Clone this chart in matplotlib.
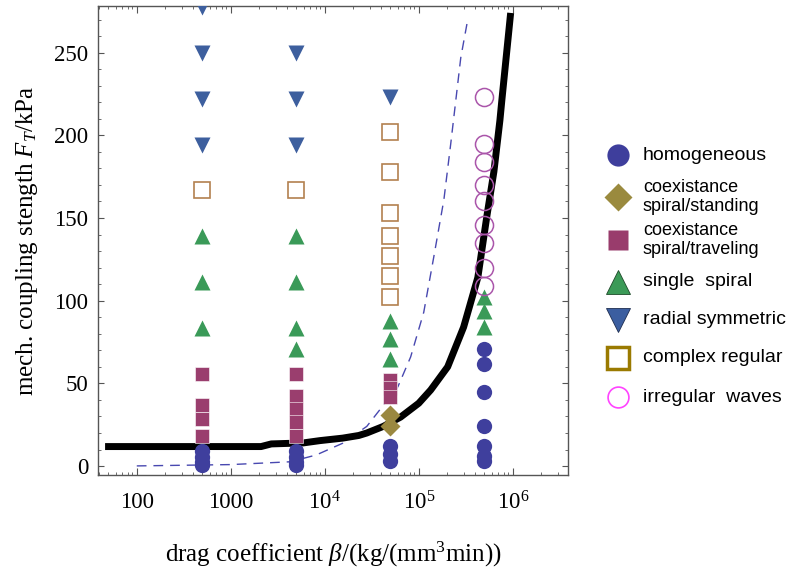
import matplotlib
matplotlib.use("Agg")
import matplotlib.pyplot as plt
from matplotlib.ticker import LogLocator, MultipleLocator, FixedLocator, FixedFormatter, NullFormatter

plt.rcParams["font.family"] = ["Liberation Serif", "DejaVu Serif"]
plt.rcParams["mathtext.fontset"] = "custom"
plt.rcParams["mathtext.rm"] = "Liberation Serif"
plt.rcParams["mathtext.it"] = "Liberation Serif:italic"

# --- measured states (beta, F_T) ---
homog_x = [500] * 4 + [5000] * 4 + [5e4] * 3 + [5e5] * 7
homog_y = [9.3, 5.5, 2.5, 0.5, 9.3, 5.5, 2.5, 0.5, 12, 7, 3, 71, 62, 45, 24, 12, 6, 3]

standing_x = [5e4, 5e4]
standing_y = [31, 24]

traveling_x = [500] * 4 + [5000] * 5 + [5e4] * 3
traveling_y = [55.6, 36.7, 28.4, 18.3, 55.6, 42.5, 34.7, 26.8, 18.3, 52, 47, 42]

spiral_x = [500] * 3 + [5000] * 4 + [5e4] * 3 + [5e5] * 3
spiral_y = [83.3, 111.1, 138.9, 70.8, 83.3, 111.1, 138.9, 65, 77, 88, 84, 94, 102]

radial_x = [500] * 4 + [5000] * 3 + [5e4]
radial_y = [194.4, 222.2, 250, 277.8, 194.4, 222.2, 250, 223]

complex_x = [500, 5000] + [5e4] * 7
complex_y = [166.7, 166.7, 202, 178, 153, 139, 127, 115, 102]

irregular_x = [5e5] * 9
irregular_y = [223, 195, 184, 170, 160, 146, 135, 120, 109]

# boundary curves
solid_x = [46, 2100, 2700, 5900, 8900, 1.55e4, 2.3e4, 2.8e4, 4.2e4, 6.4e4, 1e5, 1.34e5,
           2.03e5, 3.0e5, 4.25e5, 5.3e5, 6.3e5, 7.3e5, 7.65e5, 9.5e5]
solid_y = [11.8, 11.8, 13.4, 14, 15.4, 16.9, 18.5, 20, 24, 29.6, 38, 46,
           60, 84, 114, 151, 178, 209, 221, 274]

dashed_x = [100, 1000, 4300, 8100, 1.55e4, 2.8e4, 6e4, 8.2e4, 1.13e5, 1.44e5, 1.85e5,
            2.19e5, 2.8e5, 3.32e5]
dashed_y = [0.1, 0.9, 2.6, 6.7, 13.8, 24, 48, 66, 93, 126, 161, 195, 247, 270]

xtick_vals = [100, 1000, 1e4, 1e5, 1e6]
xtick_labels = ["100", "1000", r"$10^4$", r"$10^5$", r"$10^6$"]

legend_labels = ["homogeneous", "coexistance\nspiral/standing", "coexistance\nspiral/traveling",
                 "single  spiral", "radial symmetric", "complex regular", "irregular  waves"]

c_homog = "#3f3f9d"
c_stand = "#9a8840"
c_trav = "#9a3e6e"
c_spiral = "#3a9a58"
c_radial = "#3d5f9e"
c_complex = "#b3804f"
c_irreg = "#aa55aa"

fig = plt.figure(figsize=(7.88, 5.75), dpi=100)
ax = fig.add_axes([0.1244, 0.1739, 0.5964, 0.8157])

ax.plot(dashed_x, dashed_y, color="#4848b0", lw=1.0, dashes=(7, 5), zorder=2)
ax.plot(solid_x, solid_y, color="black", lw=5, solid_capstyle="butt",
        solid_joinstyle="round", zorder=3)

ax.plot(homog_x, homog_y, "o", ms=11, color=c_homog, mec="none", zorder=4)
ax.plot(standing_x, standing_y, "D", ms=10, color=c_stand, mec="none", zorder=4)
ax.plot(traveling_x, traveling_y, "s", ms=10, color=c_trav, mec="white", mew=0.4, zorder=4)
ax.plot(spiral_x, spiral_y, "^", ms=11.5, color=c_spiral, mec="none", zorder=4)
ax.plot(radial_x, radial_y, "v", ms=11.5, color=c_radial, mec="none", zorder=4)
ax.plot(complex_x, complex_y, "s", ms=11, mfc="white", mec=c_complex, mew=1.2, zorder=4)
ax.plot(irregular_x, irregular_y, "o", ms=13, mfc="none", mec=c_irreg, mew=1.1, zorder=4)

ax.set_xscale("log")
ax.set_xlim(38.7, 3.87e6)
ax.set_ylim(-5.4, 278.2)

ax.xaxis.set_major_locator(FixedLocator(xtick_vals))
ax.xaxis.set_major_formatter(FixedFormatter(xtick_labels))
ax.xaxis.set_minor_locator(LogLocator(base=10, subs=range(2, 10), numticks=20))
ax.xaxis.set_minor_formatter(NullFormatter())
ax.yaxis.set_major_locator(MultipleLocator(50))
ax.yaxis.set_minor_locator(MultipleLocator(10))

for s in ax.spines.values():
    s.set_color("#555555")
    s.set_linewidth(1.0)
ax.tick_params(which="both", direction="in", top=True, right=True, colors="#555555",
               labelcolor="black", labelsize=16.5)
ax.tick_params(axis="x", which="major", length=5, pad=12)
ax.tick_params(axis="x", which="minor", length=2.5)
ax.tick_params(axis="y", which="major", length=4, pad=7)
ax.tick_params(axis="y", which="minor", length=2.5)

ax.set_xlabel(r"drag coefficient $\beta$/(kg/(mm$^3$min))", fontsize=18, labelpad=18)
ax.set_ylabel(r"mech. coupling stength $F_T$/kPa", fontsize=18, labelpad=10)

# hand-placed legend (pixel coordinates of the figure)
lax = fig.add_axes([0, 0, 1, 1])
lax.set_xlim(0, 788)
lax.set_ylim(575, 0)
lax.axis("off")
key_x, text_x = 618, 643
key_y = [155, 197, 240, 282, 320, 358, 397]
key_styles = [
    dict(marker="o", ms=16, color="#3e3e9c", mec="none"),
    dict(marker="D", ms=14.5, color="#9a8a3e", mec="none"),
    dict(marker="s", ms=14, color="#993c6c", mec="none"),
    dict(marker="^", ms=17, color="#3b9a57", mec="#1e4a2a", mew=0.6),
    dict(marker="v", ms=17, color="#3b5ea0", mec="#1e2e50", mew=0.6),
    dict(marker="s", ms=16, mfc="white", mec="#9a7a00", mew=2.5),
    dict(marker="o", ms=15, mfc="white", mec="#ff44ff", mew=1.2),
]
for y, style, label in zip(key_y, key_styles, legend_labels):
    lax.plot([key_x], [y], ls="none", **style)
    two_line = "\n" in label
    lax.text(text_x, y, label, va="center", ha="left", family="Liberation Sans",
             fontsize=13 if two_line else 14, linespacing=1.15)

fig.savefig("out.png", dpi=100)
